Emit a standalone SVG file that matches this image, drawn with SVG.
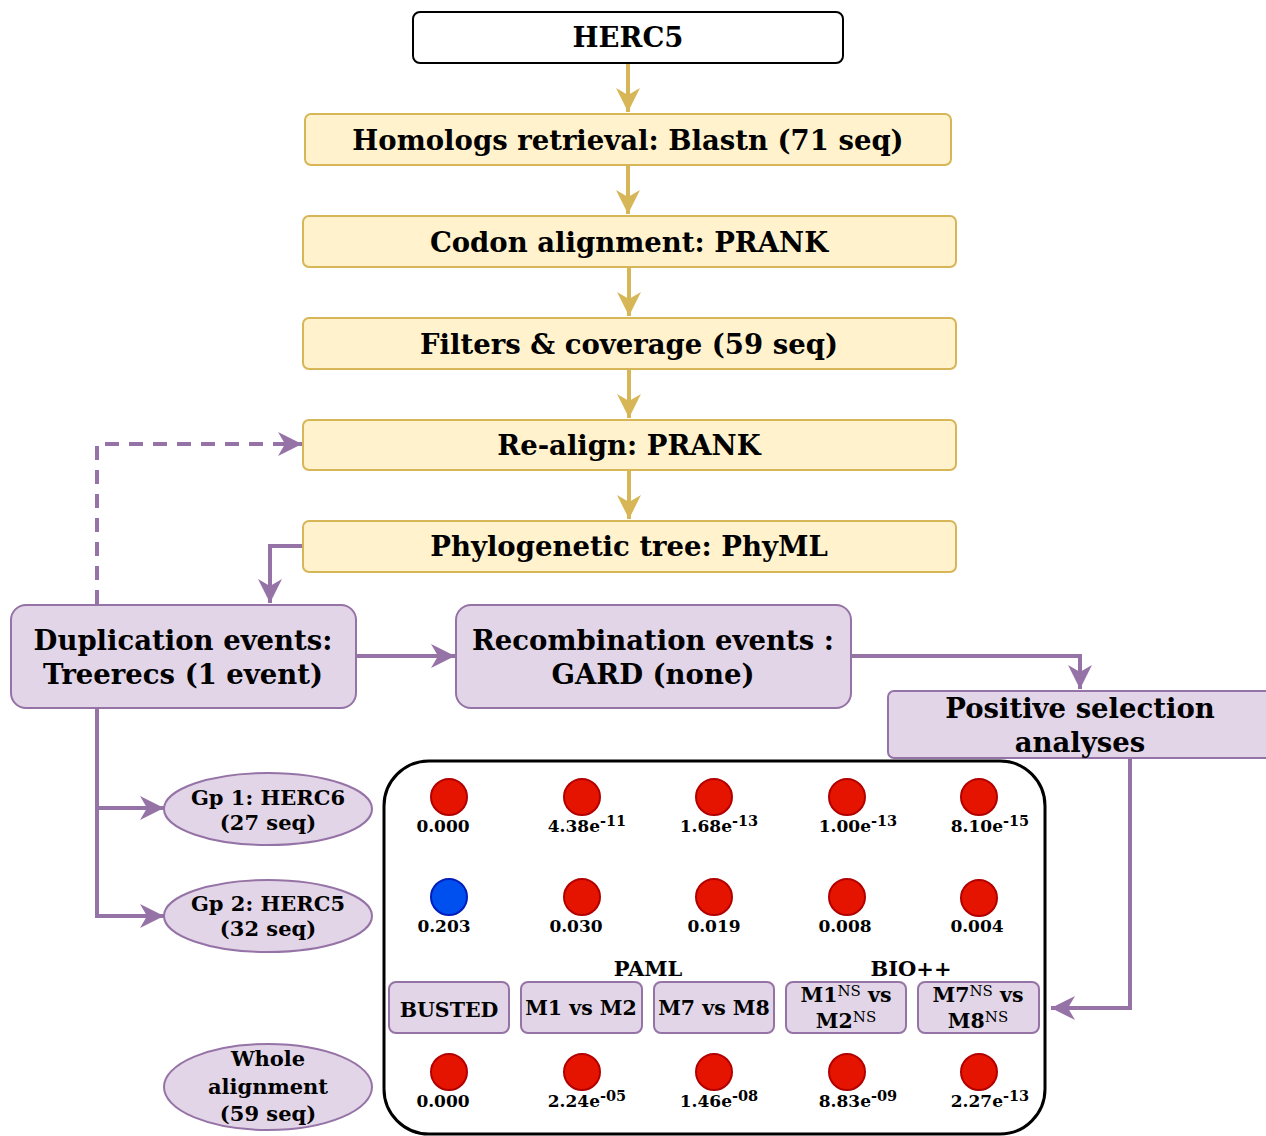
<svg xmlns="http://www.w3.org/2000/svg" width="1266" height="1136" viewBox="0 0 1266 1136">
<defs>
<style>
text{font-family:"DejaVu Serif","Liberation Serif",serif;font-weight:bold;fill:#000;text-anchor:middle}
.y{fill:#fff2cc;stroke:#d6b656;stroke-width:2}
.p{fill:#e1d5e7;stroke:#9673a6;stroke-width:2}
.big{font-size:27.5px}
.ell{font-size:21px}
.val{font-size:17px}
.sup{font-size:14.5px}
.m{font-size:20.5px}
.ms{font-size:15px;font-weight:normal}
.r{fill:#e51400;stroke:#b20000;stroke-width:2}
.b{fill:#0050ef;stroke:#001dbc;stroke-width:2}
.gl{fill:none;stroke:#d6b656;stroke-width:4}
.pl{fill:none;stroke:#9673a6;stroke-width:4}
</style>
<marker id="ag" markerUnits="userSpaceOnUse" markerWidth="26" markerHeight="26" viewBox="0 0 26 26" refX="24" refY="13" orient="auto">
<path d="M0,1 L24,13 L0,25 L7,13 Z" fill="#d6b656"/>
</marker>
<marker id="ap" markerUnits="userSpaceOnUse" markerWidth="26" markerHeight="26" viewBox="0 0 26 26" refX="24" refY="13" orient="auto">
<path d="M0,1 L24,13 L0,25 L7,13 Z" fill="#9673a6"/>
</marker>
</defs>

<g id="connectors">
<path class="gl" d="M628,63 V112" marker-end="url(#ag)"/>
<path class="gl" d="M628,165 V214" marker-end="url(#ag)"/>
<path class="gl" d="M629,267 V316" marker-end="url(#ag)"/>
<path class="gl" d="M629,369 V418" marker-end="url(#ag)"/>
<path class="gl" d="M629,470 V519" marker-end="url(#ag)"/>
<path class="pl" d="M303,546 H270 V603" marker-end="url(#ap)"/>
<path class="pl" d="M97,604 V444 H302" stroke-dasharray="14,10" marker-end="url(#ap)"/>
<path class="pl" d="M356,656 H455" marker-end="url(#ap)"/>
<path class="pl" d="M851,656 H1080 V689" marker-end="url(#ap)"/>
<path class="pl" d="M1130,758 V1008 H1051" marker-end="url(#ap)"/>
<path class="pl" d="M97,708 V916 H164" marker-end="url(#ap)"/>
<path class="pl" d="M97,808 H164" marker-end="url(#ap)"/>
</g>

<g id="herc5">
<rect x="413" y="12" width="430" height="51" rx="7" fill="#fff" stroke="#000" stroke-width="2"/>
<text class="big" x="628" y="47">HERC5</text>
</g>
<g id="homologs">
<rect class="y" x="305" y="114" width="646" height="51" rx="6"/>
<text class="big" x="628" y="150">Homologs retrieval: Blastn (71 seq)</text>
</g>
<g id="codon">
<rect class="y" x="303" y="216" width="653" height="51" rx="6"/>
<text class="big" x="629" y="252">Codon alignment: PRANK</text>
</g>
<g id="filters">
<rect class="y" x="303" y="318" width="653" height="51" rx="6"/>
<text class="big" x="629" y="354">Filters &amp; coverage (59 seq)</text>
</g>
<g id="realign">
<rect class="y" x="303" y="420" width="653" height="50" rx="6"/>
<text class="big" x="629" y="455">Re-align: PRANK</text>
</g>
<g id="phylo">
<rect class="y" x="303" y="521" width="653" height="51" rx="6"/>
<text class="big" x="629" y="556">Phylogenetic tree: PhyML</text>
</g>

<g id="duplication">
<rect class="p" x="11" y="605" width="345" height="103" rx="15"/>
<text class="big" x="183" y="650">Duplication events:</text>
<text class="big" x="183" y="684">Treerecs (1 event)</text>
</g>
<g id="recombination">
<rect class="p" x="456" y="605" width="395" height="103" rx="15"/>
<text class="big" x="653" y="650">Recombination events :</text>
<text class="big" x="653" y="684">GARD (none)</text>
</g>
<g id="positive">
<rect class="p" x="888" y="691" width="390" height="67" rx="6"/>
<text class="big" x="1080" y="718">Positive selection</text>
<text class="big" x="1080" y="752">analyses</text>
</g>

<g id="gp1">
<ellipse class="p" cx="268" cy="809" rx="104" ry="36"/>
<text class="ell" x="268" y="805">Gp 1: HERC6</text>
<text class="ell" x="268" y="830">(27 seq)</text>
</g>
<g id="gp2">
<ellipse class="p" cx="268" cy="916" rx="104" ry="36"/>
<text class="ell" x="268" y="911">Gp 2: HERC5</text>
<text class="ell" x="268" y="936">(32 seq)</text>
</g>
<g id="whole">
<ellipse class="p" cx="268" cy="1087" rx="104" ry="43"/>
<text class="ell" x="268" y="1066">Whole</text>
<text class="ell" x="268" y="1094">alignment</text>
<text class="ell" x="268" y="1121">(59 seq)</text>
</g>

<g id="results">
<rect x="384" y="761" width="661" height="373" rx="45" fill="#fff" stroke="#000" stroke-width="3"/>

<circle class="r" cx="449" cy="797" r="18"/>
<circle class="r" cx="582" cy="797" r="18"/>
<circle class="r" cx="714" cy="797" r="18"/>
<circle class="r" cx="847" cy="797" r="18"/>
<circle class="r" cx="979" cy="797" r="18"/>
<text class="val" x="443" y="832">0.000</text>
<text class="val" x="587" y="832">4.38e<tspan class="sup" dy="-6">-11</tspan></text>
<text class="val" x="719" y="832">1.68e<tspan class="sup" dy="-6">-13</tspan></text>
<text class="val" x="858" y="832">1.00e<tspan class="sup" dy="-6">-13</tspan></text>
<text class="val" x="990" y="832">8.10e<tspan class="sup" dy="-6">-15</tspan></text>

<circle class="b" cx="449" cy="897" r="18"/>
<circle class="r" cx="582" cy="897" r="18"/>
<circle class="r" cx="714" cy="897" r="18"/>
<circle class="r" cx="847" cy="897" r="18"/>
<circle class="r" cx="979" cy="898" r="18"/>
<text class="val" x="444" y="932">0.203</text>
<text class="val" x="576" y="932">0.030</text>
<text class="val" x="714" y="932">0.019</text>
<text class="val" x="845" y="932">0.008</text>
<text class="val" x="977" y="932">0.004</text>

<text class="ell" x="648" y="976">PAML</text>
<text class="ell" x="911" y="976">BIO++</text>

<rect class="p" x="389" y="982" width="120" height="51" rx="7"/>
<text class="m" x="449" y="1017">BUSTED</text>
<rect class="p" x="521" y="982" width="121" height="51" rx="7"/>
<text class="m" x="581" y="1015">M1 vs M2</text>
<rect class="p" x="654" y="982" width="120" height="51" rx="7"/>
<text class="m" x="714" y="1015">M7 vs M8</text>
<rect class="p" x="786" y="982" width="120" height="51" rx="7"/>
<text class="m" x="846" y="1002">M1<tspan class="ms" dy="-6">NS</tspan><tspan dy="6"> vs</tspan></text>
<text class="m" x="846" y="1028">M2<tspan class="ms" dy="-6">NS</tspan></text>
<rect class="p" x="918" y="982" width="121" height="51" rx="7"/>
<text class="m" x="978" y="1002">M7<tspan class="ms" dy="-6">NS</tspan><tspan dy="6"> vs</tspan></text>
<text class="m" x="978" y="1028">M8<tspan class="ms" dy="-6">NS</tspan></text>

<circle class="r" cx="449" cy="1072" r="18"/>
<circle class="r" cx="582" cy="1072" r="18"/>
<circle class="r" cx="714" cy="1072" r="18"/>
<circle class="r" cx="847" cy="1072" r="18"/>
<circle class="r" cx="979" cy="1072" r="18"/>
<text class="val" x="443" y="1107">0.000</text>
<text class="val" x="587" y="1107">2.24e<tspan class="sup" dy="-6">-05</tspan></text>
<text class="val" x="719" y="1107">1.46e<tspan class="sup" dy="-6">-08</tspan></text>
<text class="val" x="858" y="1107">8.83e<tspan class="sup" dy="-6">-09</tspan></text>
<text class="val" x="990" y="1107">2.27e<tspan class="sup" dy="-6">-13</tspan></text>
</g>
</svg>
